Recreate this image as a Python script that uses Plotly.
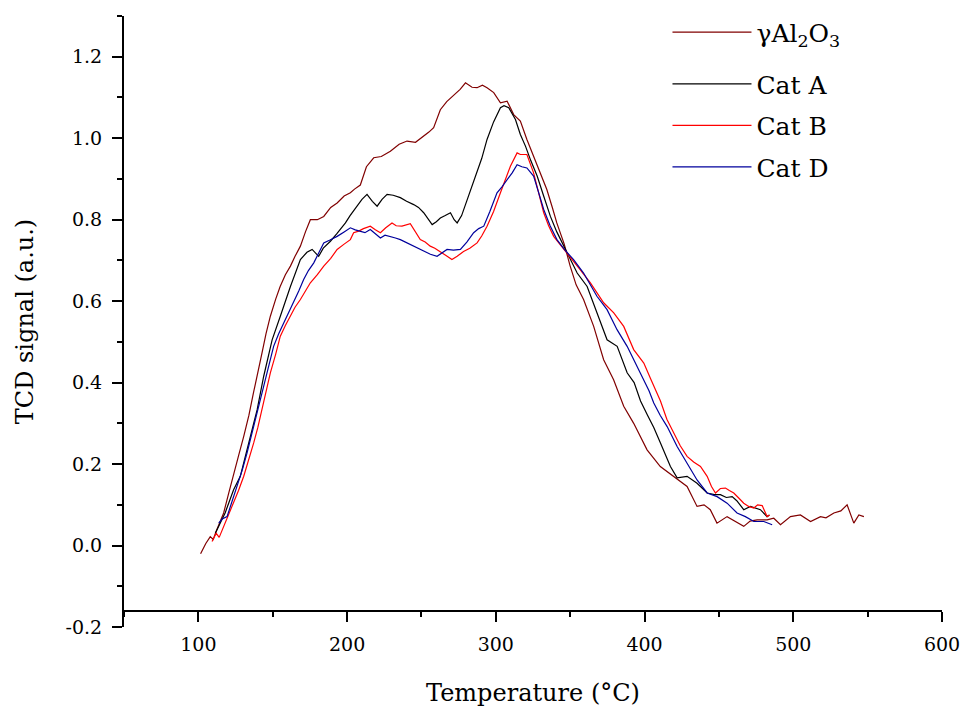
import plotly.graph_objects as go

# ---- data ----
al_T = [101.5, 105, 108, 110, 112, 117, 120.5, 123.7, 127, 130.5, 134, 137, 140, 142.8, 145.5, 148.4, 152, 155, 158.5, 161.9,
        165, 168.6, 172, 175.3, 180, 184.3, 189, 193.3, 198, 202.2, 205, 208.9, 213, 217.9, 223, 229.1, 235, 240.3, 246, 251.5,
        255, 258.2, 262.7, 267, 271.7, 276, 279.6, 284, 287.4, 291, 294.1, 298.6, 303.1, 307.6, 312, 316.5, 320.9, 326, 330, 334.3,
        338, 341, 346, 350, 354, 359, 365.8, 372.5, 379.2, 386, 392.7, 401.7, 410.6, 419.6, 428.6, 435.3, 440, 444.2, 448.7, 455.5,
        461, 466.7, 471, 475.7, 482.4, 486.9, 491.4, 498.1, 504.8, 511.6, 518.3, 522, 527.3, 532, 536.2, 540.7, 544.1, 547.5]
al_v = [-0.02, 0.005, 0.022, 0.015, 0.035, 0.08, 0.13, 0.178, 0.22, 0.268, 0.32, 0.374, 0.43, 0.473, 0.52, 0.563, 0.605, 0.636, 0.665, 0.686,
        0.71, 0.735, 0.77, 0.80, 0.80, 0.808, 0.83, 0.841, 0.858, 0.866, 0.875, 0.885, 0.93, 0.952, 0.955, 0.968, 0.985, 0.993, 0.99, 1.005,
        1.015, 1.026, 1.07, 1.09, 1.107, 1.12, 1.136, 1.125, 1.124, 1.13, 1.124, 1.112, 1.087, 1.091, 1.058, 1.042, 0.997, 0.95, 0.91, 0.874,
        0.83, 0.792, 0.74, 0.686, 0.64, 0.604, 0.538, 0.456, 0.407, 0.342, 0.30, 0.235, 0.194, 0.17, 0.145, 0.096, 0.10, 0.088, 0.055, 0.071,
        0.06, 0.047, 0.06, 0.063, 0.063, 0.067, 0.051, 0.071, 0.075, 0.059, 0.071, 0.068, 0.08, 0.085, 0.10, 0.055, 0.075, 0.071]

a_T = [111.4, 114.8, 118, 120, 123.7, 128.2, 133.8, 139.5, 143.9, 149.6, 155.1, 161.9, 168.6, 173, 176.5, 180.9, 184, 188.8, 193, 198.9,
       202, 206.7, 210, 213.4, 217, 220.2, 223.5, 226.9, 231, 235.8, 240, 244.8, 248, 251.5, 254.5, 257.2, 260, 262.7, 266, 269.5,
       272, 274, 277, 280.7, 284, 287.4, 290.5, 294.1, 298.5, 303.1, 305.5, 308.7, 313.2, 316.5, 320, 323.5, 327.8, 332, 336.7, 341,
       345.7, 350, 354.7, 361.4, 368.1, 374.8, 381.6, 388.3, 393, 397.3, 402, 406.2, 410.7, 417.4, 421.9, 428.6, 435.3, 442.1, 447, 451,
       455, 458.9, 462, 466.7, 471.2, 477.9, 482.4, 484]
a_v = [0.03, 0.055, 0.08, 0.10, 0.137, 0.17, 0.252, 0.333, 0.415, 0.505, 0.563, 0.636, 0.702, 0.72, 0.727, 0.71, 0.73, 0.747, 0.765, 0.792,
       0.81, 0.833, 0.85, 0.862, 0.845, 0.833, 0.85, 0.862, 0.86, 0.854, 0.845, 0.837, 0.83, 0.817, 0.80, 0.788, 0.795, 0.804, 0.81, 0.817,
       0.80, 0.792, 0.81, 0.849, 0.88, 0.915, 0.95, 0.997, 1.04, 1.075, 1.08, 1.075, 1.046, 1.009, 0.98, 0.945, 0.907, 0.86, 0.808, 0.77,
       0.735, 0.70, 0.669, 0.636, 0.571, 0.505, 0.489, 0.424, 0.40, 0.355, 0.32, 0.29, 0.252, 0.194, 0.166, 0.17, 0.153, 0.129, 0.125, 0.125,
       0.118, 0.12, 0.11, 0.088, 0.096, 0.088, 0.071, 0.075]

b_T = [109.2, 112, 114, 117, 120, 123.7, 127, 130.5, 134, 137.2, 140, 142.8, 145.5, 148.4, 152, 155.1, 158.5, 161.9, 165, 168.6,
       172, 175.3, 180, 184.3, 189, 193.3, 198, 202.2, 204.4, 207.8, 211, 215.6, 219, 222.4, 226, 230.2, 233, 236.9, 242.5, 246,
       249.2, 252.5, 255.9, 259, 262.7, 266.5, 270.5, 274, 278.3, 282.5, 287.4, 290.5, 294.1, 298.5, 303.1, 306.5, 309.8, 314.3, 316.5, 320.9,
       325.4, 328.5, 332.2, 335.5, 338.9, 343, 347.9, 352, 356.8, 363.6, 368, 372.5, 379.3, 386, 392.7, 399.5, 404, 410.7, 415, 419.7,
       424, 428.6, 433, 437.6, 442.1, 445, 447.7, 451, 454.4, 457, 460, 463, 466.7, 470, 473.5, 476, 479.1, 482.4, 484]
b_v = [0.01, 0.03, 0.02, 0.047, 0.07, 0.104, 0.135, 0.17, 0.21, 0.252, 0.29, 0.333, 0.38, 0.424, 0.47, 0.514, 0.54, 0.563, 0.585, 0.604,
       0.625, 0.645, 0.665, 0.686, 0.705, 0.727, 0.74, 0.751, 0.768, 0.772, 0.778, 0.784, 0.775, 0.768, 0.78, 0.792, 0.785, 0.784, 0.79, 0.77,
       0.751, 0.745, 0.735, 0.73, 0.722, 0.712, 0.702, 0.71, 0.722, 0.73, 0.743, 0.76, 0.784, 0.82, 0.866, 0.90, 0.931, 0.964, 0.96, 0.96,
       0.915, 0.87, 0.817, 0.785, 0.759, 0.74, 0.718, 0.70, 0.677, 0.645, 0.62, 0.596, 0.571, 0.538, 0.481, 0.448, 0.41, 0.355, 0.31, 0.276,
       0.245, 0.219, 0.205, 0.194, 0.17, 0.145, 0.129, 0.14, 0.141, 0.135, 0.129, 0.118, 0.104, 0.096, 0.092, 0.10, 0.098, 0.071, 0.075]

d_T = [113.7, 116, 119.3, 122.5, 126, 129.5, 132.7, 136, 139.4, 142, 145, 148, 150.6, 154, 157.4, 160.5, 164.1, 167.5, 170.8, 174,
       177.6, 181, 184.3, 188.5, 193.3, 198, 202.2, 205.5, 208.9, 212, 215.6, 219, 222.4, 225.5, 229.1, 232.5, 235.8, 239, 242.6, 247,
       251.5, 256, 260.5, 264, 267.2, 271.5, 276.2, 280.5, 285.1, 288.5, 291.9, 296, 300.8, 304, 307.6, 311, 314.3, 317.5, 320.9, 325.4,
       328.5, 332.2, 336.5, 341.1, 346.5, 352.3, 359, 363.5, 368, 374.8, 381.5, 388.3, 395, 399.5, 403, 406.2, 410.5, 415.2, 421.9, 428.6,
       435.3, 442.1, 448.8, 455.5, 462.2, 467.8, 473.5, 480.2, 485.8]
d_v = [0.055, 0.065, 0.071, 0.105, 0.145, 0.185, 0.227, 0.275, 0.325, 0.365, 0.407, 0.45, 0.489, 0.52, 0.546, 0.57, 0.596, 0.625, 0.653, 0.675,
       0.694, 0.72, 0.743, 0.75, 0.759, 0.77, 0.78, 0.775, 0.772, 0.768, 0.776, 0.765, 0.755, 0.762, 0.759, 0.755, 0.751, 0.745, 0.739, 0.73,
       0.722, 0.715, 0.71, 0.72, 0.727, 0.725, 0.727, 0.745, 0.768, 0.778, 0.784, 0.82, 0.866, 0.88, 0.898, 0.915, 0.935, 0.93, 0.927, 0.907,
       0.87, 0.825, 0.785, 0.751, 0.725, 0.702, 0.669, 0.64, 0.612, 0.579, 0.53, 0.489, 0.44, 0.407, 0.38, 0.35, 0.32, 0.292, 0.243, 0.202,
       0.161, 0.129, 0.12, 0.104, 0.08, 0.071, 0.059, 0.059, 0.051]

series_names = ["γAl<sub>2</sub>O<sub>3</sub>", "Cat A", "Cat B", "Cat D"]
series_colors = ["#800000", "#000000", "#FF0000", "#00009C"]
series_T = [al_T, a_T, b_T, d_T]
series_v = [al_v, a_v, b_v, d_v]
series_legend = ["legend", "legend2", "legend2", "legend2"]

x_ticks = [100, 200, 300, 400, 500, 600]
y_ticks = [-0.2, 0.0, 0.2, 0.4, 0.6, 0.8, 1.0, 1.2]
y_tick_labels = ["-0.2", "0.0", "0.2", "0.4", "0.6", "0.8", "1.0", "1.2"]

FONT = "DejaVu Serif"

fig = go.Figure()
for i, (name, col, T, v, lg) in enumerate(zip(series_names, series_colors, series_T, series_v, series_legend)):
    fig.add_trace(go.Scatter(x=T, y=v, mode="lines", name=name, legendgroup=f"g{i}", legend=lg,
                             line=dict(color=col, width=1.2)))

legend_style = dict(xanchor="left", yanchor="top", font=dict(size=25, family=FONT),
                    bgcolor="rgba(0,0,0,0)", tracegroupgap=6, itemwidth=79)

fig.update_layout(
    width=961, height=708,
    margin=dict(l=124, r=19, t=16, b=81, autoexpand=False),
    paper_bgcolor="white", plot_bgcolor="white",
    font=dict(family=FONT, color="black", size=19),
    showlegend=True,
    legend=dict(x=0.6644, y=1.011, **legend_style),
    legend2=dict(x=0.6644, y=0.926, **legend_style),
    xaxis=dict(range=[50, 600], tickmode="array", tickvals=x_ticks, ticks="outside", ticklen=10, tickwidth=2,
               tickcolor="black", showline=True, linewidth=2, linecolor="black", showgrid=False, zeroline=False,
               anchor="free", position=0.0257, ticklabelstandoff=6, ticklabeloverflow="allow",
               minor=dict(tickmode="linear", tick0=50, dtick=50, ticks="outside", ticklen=5, tickwidth=2, tickcolor="black"),
               tickfont=dict(size=19),
               title=dict(text="Temperature (°C)", font=dict(size=24), standoff=29)),
    yaxis=dict(range=[-0.2, 1.3], tickmode="array", tickvals=y_ticks, ticktext=y_tick_labels, ticks="outside",
               ticklen=10, tickwidth=2, tickcolor="black", showline=True, linewidth=2, linecolor="black",
               showgrid=False, zeroline=False, ticklabelstandoff=6, ticklabeloverflow="allow",
               minor=dict(tickmode="linear", tick0=-0.2, dtick=0.1, ticks="outside", ticklen=5, tickwidth=2, tickcolor="black"),
               tickfont=dict(size=19),
               title=dict(text="TCD signal (a.u.)", font=dict(size=24), standoff=25)),
)

fig.write_html("out.html")
